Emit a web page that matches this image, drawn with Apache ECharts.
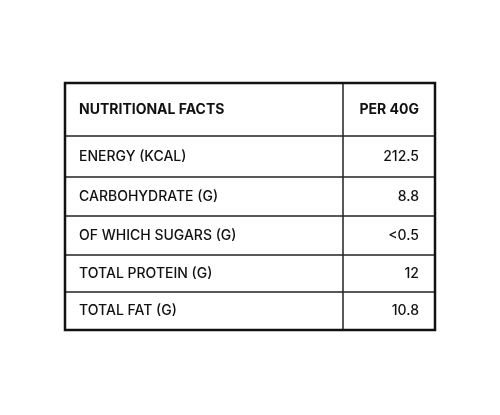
<!DOCTYPE html>
<html>
<head>
<meta charset="UTF-8">
<script src="https://cdn.jsdelivr.net/npm/echarts@6/dist/echarts.min.js"></script>
<style>html,body{margin:0;background:#fff}#c{width:500px;height:415px}</style>
</head>
<body>
<div id="c"></div>
<script>
var header = ['NUTRITIONAL FACTS', 'PER 40G'];
var nutrients = ['ENERGY (KCAL)', 'CARBOHYDRATE (G)', 'OF WHICH SUGARS (G)', 'TOTAL PROTEIN (G)', 'TOTAL FAT (G)'];
var amounts = ['212.5', '8.8', '<0.5', '12', '10.8'];

// table geometry
var tLeft = 65, tRight = 435, tSplit = 343, tTop = 83;
var rowH = [53, 41, 39, 39, 37, 38];

var els = [];
var yy = tTop;
var font = 'Inter, "Open Sans", sans-serif';
for (var i = 0; i < rowH.length; i++) {
    var mid = yy + rowH[i] / 2;
    var l = i === 0 ? header[0] : nutrients[i - 1];
    var r = i === 0 ? header[1] : amounts[i - 1];
    var w = i === 0 ? 700 : 500;
    els.push({type: 'text', style: {text: l, x: tLeft + 14, y: mid, verticalAlign: 'middle',
        fill: '#111', font: w + ' 14px ' + font}});
    els.push({type: 'text', style: {text: r, x: tRight - 16, y: mid, align: 'right', verticalAlign: 'middle',
        fill: '#111', font: w + ' 14px ' + font}});
    yy += rowH[i];
    if (i < rowH.length - 1)
        els.push({type: 'line', shape: {x1: tLeft, y1: yy, x2: tRight, y2: yy}, style: {stroke: '#222', lineWidth: 1.5}});
}
els.push({type: 'line', shape: {x1: tSplit, y1: tTop, x2: tSplit, y2: yy}, style: {stroke: '#222', lineWidth: 1.5}});
els.push({type: 'rect', shape: {x: tLeft, y: tTop, width: tRight - tLeft, height: yy - tTop},
    style: {fill: 'none', stroke: '#111', lineWidth: 2.5}});

var chart = echarts.init(document.getElementById('c'));
chart.setOption({graphic: {elements: els}});
</script>
</body>
</html>
